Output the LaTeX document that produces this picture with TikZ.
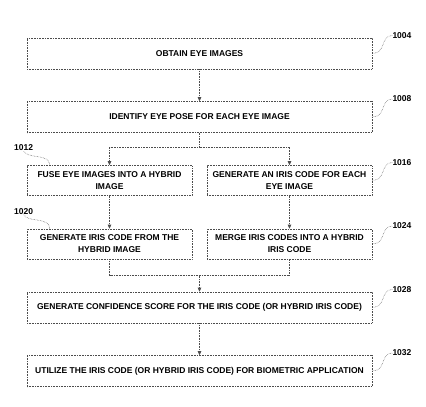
\documentclass[tikz,border=0pt]{standalone}
\usepackage{fontspec}
\setmainfont{Liberation Sans}
\usetikzlibrary{positioning,arrows.meta}

\tikzset{
  stepbox/.style={rectangle, draw=black!70, densely dotted, line width=0.6pt,
    minimum width=345pt, minimum height=31pt, inner sep=2pt, align=center,
    text=black, font=\fontsize{8.5}{12}\selectfont\bfseries},
  halfbox/.style={stepbox, minimum width=165pt, minimum height=30pt},
  refnum/.style={inner sep=0pt, text=black, font=\fontsize{8.5}{10}\selectfont\bfseries},
  flow/.style={draw=black!70, densely dotted, line width=0.6pt,
    -{Triangle[length=4pt,width=3.5pt]}},
  dotline/.style={draw=black!70, densely dotted, line width=0.6pt},
  lead/.style={draw=black!70, densely dotted, line width=0.5pt}
}

\begin{document}
\begin{tikzpicture}[node distance=63.5pt, x=1pt, y=-1pt]
\useasboundingbox (0,0) rectangle (426,407);

\node (obtain) [stepbox] at (199.5,53.5) {OBTAIN EYE IMAGES};
\node (pose) [stepbox, below of=obtain] {IDENTIFY EYE POSE FOR EACH EYE IMAGE};
\node (fuse) [halfbox, below of=pose, xshift=-90pt] {FUSE EYE IMAGES INTO A HYBRID\\IMAGE};
\node (eachcode) [halfbox, below of=pose, xshift=90pt] {GENERATE AN IRIS CODE FOR EACH\\EYE IMAGE};
\node (fusedcode) [halfbox, below of=fuse] {GENERATE IRIS CODE FROM THE\\HYBRID IMAGE};
\node (mergecode) [halfbox, below of=eachcode] {MERGE IRIS CODES INTO A HYBRID\\IRIS CODE};
\node (score) [stepbox, below of=fusedcode, xshift=90pt] {GENERATE CONFIDENCE SCORE FOR THE IRIS CODE (OR HYBRID IRIS CODE)};
\node (use) [stepbox, below of=score] {UTILIZE THE IRIS CODE (OR HYBRID IRIS CODE) FOR BIOMETRIC APPLICATION};

\coordinate [below=14pt of pose] (split);
\coordinate [above=16pt of score] (join);

\draw[flow] (obtain) -- (pose);
\draw[flow] (pose) -- (split) -| (fuse);
\draw[flow] (split) -| (eachcode);
\draw[flow] (fuse) -- (fusedcode);
\draw[flow] (eachcode) -- (mergecode);
\draw[dotline] (fusedcode) |- (join) -| (mergecode);
\draw[flow] (join) -- (score);
\draw[flow] (score) -- (use);

% reference numerals
\node (n1004) [refnum, right=20pt of obtain.east, yshift=18pt] {1004};
\node (n1008) [refnum, right=20pt of pose.east, yshift=18pt] {1008};
\node (n1016) [refnum, right=20pt of eachcode.east, yshift=18pt] {1016};
\node (n1024) [refnum, right=20pt of mergecode.east, yshift=18pt] {1024};
\node (n1028) [refnum, right=20pt of score.east, yshift=18pt] {1028};
\node (n1032) [refnum, right=20pt of use.east, yshift=18pt] {1032};
\node (n1012) [refnum, above=14pt of fuse.north west, xshift=-3pt] {1012};
\node (n1020) [refnum, above=14pt of fusedcode.north west, xshift=-3pt] {1020};

\draw[lead] (obtain.east) .. controls +(14,0) and +(-12,0) .. (n1004.west);
\draw[lead] (pose.east) .. controls +(14,0) and +(-12,0) .. (n1008.west);
\draw[lead] (eachcode.east) .. controls +(14,0) and +(-12,0) .. (n1016.west);
\draw[lead] (mergecode.east) .. controls +(14,0) and +(-12,0) .. (n1024.west);
\draw[lead] (score.east) .. controls +(14,0) and +(-12,0) .. (n1028.west);
\draw[lead] (use.east) .. controls +(14,0) and +(-12,0) .. (n1032.west);
\draw[lead] (n1012.south) .. controls +(4,8) and +(0,-12) .. ([xshift=23pt]fuse.north west);
\draw[lead] (n1020.south) .. controls +(4,8) and +(0,-12) .. ([xshift=23pt]fusedcode.north west);

\end{tikzpicture}
\end{document}
